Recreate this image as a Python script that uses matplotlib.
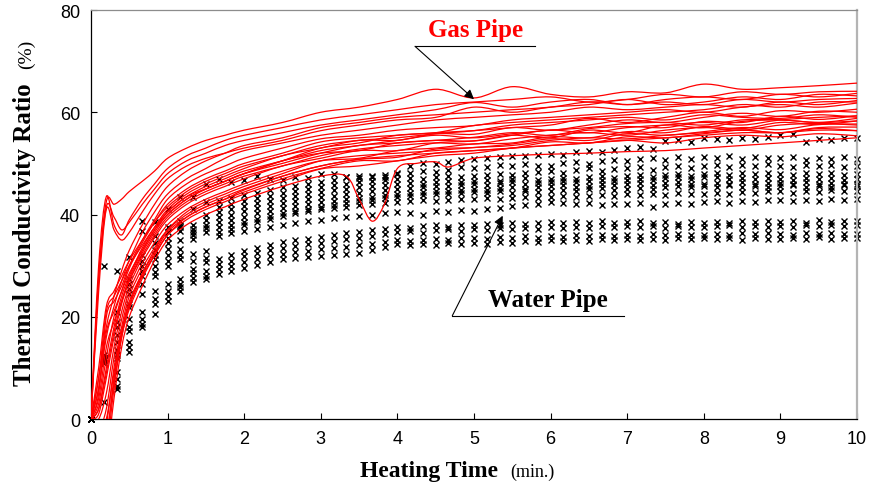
import numpy as np
import matplotlib
matplotlib.use("Agg")
import matplotlib.pyplot as plt
from matplotlib.path import Path
from matplotlib.patches import PathPatch
from matplotlib.lines import Line2D

# ---------------- data ----------------
x_ticks = [0, 1, 2, 3, 4, 5, 6, 7, 8, 9, 10]
y_ticks = [0, 20, 40, 60, 80]

# gas pipe curves (Heating time in min)
gas_time = [0, 0.1, 0.2, 0.3, 0.4, 0.5, 0.67, 0.83, 1.0, 1.25, 1.5, 1.75, 2.0, 2.5,
            3.0, 3.5, 4.0, 4.5, 5.0, 5.5, 6.0, 6.5, 7.0, 7.5, 8.0, 8.5, 9.0, 9.5, 10.0]
gas_01 = [0, 28, 42.5, 42, 43, 44.5, 46.5, 48.5, 51, 53, 54.5, 55.5, 56.5, 58, 60, 61, 62.5, 64.5, 62.8, 65, 63.5, 63, 64, 63.8, 65.5, 64.5, 64.8, 65.2, 65.7]
gas_02 = [0, 30, 43.5, 38, 36, 39, 43, 46, 49, 51.5, 53, 54.5, 55.5, 57, 58.5, 59.5, 60.5, 61.5, 62, 62.5, 63, 62, 62.5, 63.5, 63, 64, 63.5, 64, 64.1]
gas_03 = [0, 27, 41.5, 39.5, 37, 38.5, 42, 45, 48, 50.5, 52, 53.5, 54.5, 56, 57.5, 58.5, 59.5, 60.5, 61.9, 61, 62, 62.5, 61.5, 62.5, 63, 62.5, 63.5, 63, 63.7]
gas_04 = [0, 25, 41, 37, 35, 36.5, 40.5, 44, 47, 49.5, 51, 52, 53, 54.5, 56.4, 57.5, 58.5, 59, 61, 60, 61, 61.5, 62.5, 61.5, 62, 63, 62.5, 63.5, 63.2]
gas_05 = [0, 8, 18, 24, 29, 33, 38, 42, 45.5, 48.5, 50.5, 52, 53.5, 55, 57, 58, 59, 59.5, 60, 60.5, 61, 62, 61.5, 62, 61.5, 62.5, 62, 62.5, 62.7]
gas_06 = [0, 6, 16, 22, 27, 31, 36.5, 40.5, 44, 47, 49, 51, 52.5, 54, 55.5, 56.5, 57.5, 58.5, 59, 59.5, 60, 61, 60.5, 61, 61.5, 61, 62, 61.5, 62.3]
gas_07 = [0, 5, 20, 23, 26, 30, 35, 39, 43, 46, 48, 49.5, 51, 53, 54.8, 55.5, 56.5, 57, 57.4, 58.5, 59, 59.5, 60, 60.5, 60, 61, 61.5, 61, 61.8]
gas_08 = [0, 3, 12, 20, 25, 29.5, 34.5, 38.5, 42, 45, 47, 48.5, 50, 52, 54.2, 55, 55.5, 56, 56.4, 57, 57.5, 58.8, 58, 59, 60, 59.2, 60.3, 60, 60.6]
gas_09 = [0, 2, 10, 18, 24, 28, 33.5, 37.5, 41, 44, 46, 47.5, 49, 51.5, 53, 54.5, 54.5, 55.8, 55.7, 57, 56.5, 57.5, 58.5, 58, 59, 59.8, 59.2, 60.2, 60]
gas_10 = [0, 1, 8, 16, 22.5, 27, 32.5, 36.5, 40, 43, 45, 46.5, 48, 50.5, 52, 52.5, 54, 54.5, 55.1, 56, 55.5, 56.8, 57.2, 57, 58.2, 58, 59.2, 58.6, 59.3]
gas_11 = [0, 0, 5, 14, 21, 26, 31.5, 35.5, 39, 42, 44, 45.5, 47, 49.5, 51, 52.5, 52.5, 54, 54.4, 55.5, 55, 56.5, 56, 57.5, 57, 58.2, 58.5, 58, 58.8]
gas_12 = [0, -2, 2, 12, 19.5, 25, 30.5, 34.5, 38, 41, 43, 44.5, 46, 48.5, 50.5, 51, 52.5, 53, 53.8, 54, 55.2, 55, 56.2, 56, 57.2, 56.8, 58, 57.6, 58.3]
gas_13 = [0, -4, -1, 10, 18, 24, 29.5, 33.5, 37, 40, 42, 43.5, 45, 47.5, 49.5, 50.8, 51.2, 52.8, 53.1, 53.8, 54.8, 54.5, 55.8, 55.5, 56.2, 57, 56.6, 57.6, 57.7]
gas_14 = [0, -6, -4, 8, 17, 23, 28.5, 32.5, 36.6, 39.5, 41.5, 43, 44.4, 47, 49, 50.5, 50.5, 52, 52.5, 53, 54.2, 54, 55.2, 55, 55.8, 56.5, 56, 57, 57.1]
gas_15 = [0, -8, -6, 6, 16, 22, 28, 32, 36, 39, 41, 42.5, 44, 46.5, 48.9, 49.5, 50.5, 51.5, 52, 53, 53.5, 54, 54.5, 55, 55.5, 56, 56, 56.5, 56.4]
gas_16 = [0, 10, 22, 25, 28, 31, 35, 38.5, 41.5, 44.5, 46.5, 48, 49.5, 51.5, 53.5, 54.5, 55, 55.8, 56.4, 57.5, 58, 58.5, 59, 58.5, 59.5, 59, 58.8, 59.5, 59]
gas_17 = [0, 8, 21, 24, 27, 30, 34, 37.5, 40.5, 43.5, 45.5, 47, 48.5, 50.5, 52.5, 53.5, 54.5, 55.5, 55, 55.8, 56.5, 57, 57.8, 58, 57.5, 58.5, 58.5, 58, 58.3]
gas_18 = [0, 4, 14, 19, 23, 27, 32, 36, 39.5, 42.5, 44.5, 46, 47.5, 49.5, 51.5, 52.8, 53.5, 54, 53.8, 54.8, 55.5, 56, 55.5, 56.5, 57, 56.5, 57.5, 57.8, 57.5]
gas_19 = [0, -3, 0, 9, 17, 22.5, 28.5, 33, 37, 40.5, 42.5, 44, 45.5, 48, 50.5, 51.5, 52, 52.5, 53.1, 53.5, 54.5, 55, 54.8, 55.5, 56, 56.5, 56, 56.8, 56.4]
gas_20 = [0, -5, -3, 7, 16, 21.5, 27.5, 32, 36, 39.5, 41.5, 43, 44.8, 47.5, 49.5, 50.8, 51.5, 52, 52.5, 53, 53.5, 54, 54.5, 54, 55, 55.5, 55.2, 55.8, 55.4]
gas_21 = [0, 6, 17, 21, 25, 28.5, 33, 37, 40.5, 43.5, 45, 46.5, 48, 50, 52, 53.5, 54, 54.5, 54.4, 55.5, 56.5, 56, 57, 57.5, 58, 57.5, 58.5, 59, 59.3]
gas_22 = [0, 2, 9, 17, 23, 27.5, 33, 37, 40, 43, 45, 46.5, 48, 50.5, 53, 54, 55.5, 56, 57.4, 58, 58.5, 59, 59.5, 60, 60.5, 61.5, 61, 62, 62]

# gas curve with the local drop near 3.7 min
gas_dip_time = [0, 0.1, 0.2, 0.3, 0.4, 0.5, 0.67, 0.83, 1.0, 1.25, 1.5, 1.75, 2.0, 2.5, 3.0, 3.33, 3.5,
                3.67, 3.83, 4.0, 4.25, 4.5, 4.67, 5.0, 5.5, 6.0, 6.5, 7.0, 7.5, 8.0, 8.5, 9.0, 9.5, 10.0]
gas_dip = [0, -10, -8, 4, 14, 20, 26, 31, 35, 38, 40, 41.5, 43, 45.5, 47.5, 47.5, 43,
           38.7, 42, 49, 50, 50.3, 49.3, 51, 51.5, 51.8, 52, 52.3, 52.5, 53, 53.5, 54, 54.5, 55]

# water pipe measurements, one every 10 s (k/6 min, k = 0..60)
water_time = np.arange(61) / 6.0
water_01 = [0, 30, 29, 31.7, 38.8, 38.5, 41, 43.4, 43.4, 46, 47, 46.4, 46.8, 47.5, 47, 46.8, 47.4, 47.2, 48, 48, 47.4, 47.6, 47.4, 47.3, 48.2, 49.5, 50, 49.8, 50.2, 50.6, 50.8, 51, 51.2, 51.4, 51.4, 51.6, 51.8, 51.6, 52.2, 52.4, 52.2, 52.6, 53, 53.2, 52.8, 54.4, 54.6, 54.2, 55, 54.8, 54.6, 55, 54.8, 55.2, 55.6, 55.8, 54.2, 54.8, 54.6, 55, 55]
water_02 = [0, 12.5, 21, 27.4, 36.8, 35.8, 37.5, 38.7, 41, 42.4, 42.6, 43.2, 43.8, 44.2, 44.8, 45.3, 45.6, 46, 46.4, 46.8, 47.3, 47.1, 47.5, 47.8, 48, 48.2, 48.6, 48.4, 48.8, 49.2, 49, 49.3, 49.6, 49.4, 49.8, 49.5, 49.5, 50, 50.3, 49.8, 50.4, 50.6, 50.5, 50.8, 51, 50.6, 51.2, 50.9, 51.2, 51, 51.4, 50.8, 51.2, 51, 51, 51.3, 50.6, 51, 50.8, 51.2, 50.8]
water_03 = [0, 12, 19, 26.5, 32, 34.5, 36.5, 38, 38, 40, 41.5, 42, 42.6, 43.2, 43.7, 44.2, 44.6, 45, 45.4, 45.8, 46, 46.3, 46.5, 46.8, 47, 47.2, 46.9, 47.3, 47.6, 47.4, 47.5, 47.8, 48, 47.7, 48.2, 48.4, 48.5, 48.2, 48.7, 49, 48.6, 48.9, 49, 49.2, 48.8, 49.3, 49.5, 49.1, 49.5, 49.7, 49.2, 49.6, 49.4, 49.8, 49.5, 49.3, 49.7, 49.4, 49.6, 49.3, 49.5]
water_04 = [0, 12, 18, 25.5, 31, 33, 35.5, 37.5, 37.2, 39, 40.5, 41, 41.6, 42.2, 42.7, 43.2, 43.6, 44, 44.4, 44.7, 45, 45.3, 45.5, 45.8, 46, 46.2, 46, 46.4, 46.6, 46.3, 46.6, 46.8, 46.5, 46.9, 47.1, 46.8, 47, 47.2, 46.9, 47.3, 47.5, 47.2, 47.5, 47.7, 47.4, 47.8, 48, 47.6, 48, 48.2, 47.8, 48.1, 47.9, 48.2, 48, 47.8, 48.2, 47.9, 48.1, 47.8, 48]
water_05 = [0, 11.5, 16.5, 24.4, 30, 32, 34.5, 36.8, 36.6, 38, 39.5, 40, 40.6, 41.2, 41.7, 42.2, 42.6, 43, 43.4, 43.7, 44, 44.2, 44.5, 44.8, 45, 45.2, 45.4, 45.6, 45.5, 45.8, 46, 45.8, 46.1, 46.3, 46, 46.2, 46.4, 46.6, 46.3, 46.5, 46.8, 46.6, 46.8, 47, 46.7, 47.1, 47.3, 47, 47.3, 47.4, 47, 47.2, 46.9, 47.2, 47, 46.8, 47.2, 46.9, 47.1, 46.8, 47]
water_06 = [0, 11.5, 15, 22.5, 29, 31.3, 33.2, 35, 36, 37.3, 38.5, 39, 39.6, 40.2, 40.7, 41.2, 41.6, 42, 42.4, 42.7, 43, 43.2, 43.5, 43.8, 44, 44.2, 44.4, 44.6, 44.5, 44.8, 45, 44.8, 45.1, 45.3, 45, 45.3, 45.5, 45.7, 45.4, 45.6, 45.9, 45.7, 46, 46.2, 45.8, 46.1, 46.3, 45.9, 46, 46.2, 45.9, 46.3, 46, 46.2, 46.2, 45.9, 46.3, 46, 46.2, 45.9, 46]
water_07 = [0, 11, 13.5, 22, 28, 30, 32, 33.2, 35.2, 36.6, 37.5, 38, 38.6, 39.2, 39.7, 40.2, 40.7, 41.1, 41.5, 41.9, 42.3, 42.6, 42.9, 43.2, 43.5, 43.7, 43.9, 44.1, 44, 44.3, 44.4, 44.2, 44.5, 44.3, 44.6, 44.4, 44.6, 44.8, 44.5, 44.9, 45.1, 44.8, 45, 45.2, 45, 45.4, 45.6, 45.3, 45.6, 45.4, 45.7, 45.3, 45.6, 45.4, 45.5, 45.7, 45.4, 45.6, 45.3, 45.7, 45.6]
water_08 = [0, 11, 12.5, 19.6, 26.5, 28.7, 31, 32, 32.3, 32.9, 36.5, 37.2, 37.9, 38.5, 39.1, 39.7, 40.2, 40.6, 41, 41.3, 41.5, 41.8, 42, 42.3, 42.5, 42.6, 42.8, 42.7, 42.9, 43.1, 43, 43.2, 43, 43.3, 43.5, 43.2, 43.4, 43.6, 43.4, 43.7, 43.9, 43.6, 44, 43.8, 44.1, 43.9, 44.2, 44, 44, 44.3, 44.1, 44.4, 44.2, 44.5, 44.5, 44.3, 44.6, 44.4, 44.7, 44.5, 44.6]
water_09 = [0, 11.5, 12, 18, 24.5, 28, 30, 31.3, 31, 31.5, 35.8, 36.3, 36.8, 37.2, 37.6, 38, 38.4, 38.7, 39, 39.3, 39.5, 39.8, 40, 40.2, 40.5, 40.3, 40, 40.6, 40.4, 40.8, 40.7, 41, 41.3, 41.6, 41.9, 42.1, 42.4, 42.2, 42, 42.3, 41.8, 42.1, 42, 42.2, 41.5, 42, 42.3, 42.1, 42.4, 42.6, 42.3, 42.7, 42.5, 42.8, 42.8, 42.6, 42.9, 42.7, 43.1, 42.8, 43]
water_10 = [0, 12, 9.2, 17.2, 21, 25, 26.4, 27.4, 29.3, 30.7, 31.3, 32, 32.8, 33.4, 34, 34.6, 35, 35.3, 35.6, 35.9, 36.3, 36.6, 36.9, 37.2, 37.5, 37.3, 37.7, 37.9, 37.6, 38, 38, 38.2, 37.9, 38.3, 38.1, 38.4, 38.5, 38.3, 38.6, 38.4, 38.7, 38.3, 38.5, 38.7, 38.4, 38.6, 38.2, 38.5, 38.3, 38.6, 38.4, 38.7, 38.5, 38.8, 38.5, 38.7, 38.4, 38.9, 38.6, 38.8, 38.8]
water_11 = [0, 11.5, 7.8, 15, 19.5, 23.5, 25, 26.5, 28.5, 29, 30.3, 31, 31.8, 32.4, 33, 33.5, 33.8, 34.2, 34.5, 34.8, 35.2, 35.5, 35.8, 36.2, 36.5, 36.7, 36.4, 36.9, 37.1, 36.8, 37.2, 37, 37.3, 37.1, 37.4, 37.2, 37.5, 37.3, 37.6, 37.4, 37.7, 37.5, 37.8, 37.5, 37.7, 37.4, 37.8, 37.6, 37.5, 37.7, 37.9, 37.6, 37.8, 37.5, 37.8, 37.6, 37.9, 37.7, 38, 37.8, 38]
water_12 = [0, 11, 6.5, 14, 18.5, 22.5, 24, 25.8, 27.5, 28, 29.4, 30, 30.7, 31.3, 31.8, 32.3, 32.6, 32.9, 33.2, 33.5, 33.7, 34, 34.3, 34.7, 35, 34.8, 35.1, 35.3, 35, 35.4, 35.5, 35.3, 35.6, 35.4, 35.7, 35.5, 35.8, 35.6, 35.9, 35.7, 36, 35.8, 36, 35.8, 36.1, 35.9, 36.2, 35.9, 36, 36.2, 35.9, 36.3, 36.1, 36.3, 36.2, 36, 36.3, 36.1, 36.4, 36.2, 36.2]
water_13 = [0, 3.3, 5.9, 13.1, 18, 20.5, 23.1, 25, 26.8, 27.4, 28.4, 29, 29.6, 30.2, 30.7, 31.3, 31.5, 31.7, 31.9, 32.1, 32.3, 32.5, 33, 33.6, 34.2, 34, 34.3, 34.1, 34.4, 34.2, 34.5, 34.3, 34.6, 34.4, 34.8, 34.6, 35, 34.8, 35.1, 34.9, 35.2, 35, 35.2, 35, 35.3, 35.1, 35.4, 35.2, 35.5, 35.2, 35.4, 35.1, 35.5, 35.3, 35.3, 35.5, 35.2, 35.6, 35.3, 35.5, 35.5]

gas_curves = [gas_01, gas_02, gas_03, gas_04, gas_05, gas_06, gas_07, gas_08, gas_09, gas_10, gas_11,
              gas_12, gas_13, gas_14, gas_15, gas_16, gas_17, gas_18, gas_19, gas_20, gas_21, gas_22]
water_series = [water_01, water_02, water_03, water_04, water_05, water_06, water_07,
                water_08, water_09, water_10, water_11, water_12, water_13]

# ---------------- drawing ----------------
SERIF = ["Liberation Serif", "DejaVu Serif"]
SANS = ["Liberation Sans", "DejaVu Sans"]


def smooth_path(xs, ys):
    """Smoothed line through the points (cubic Bezier, like a spreadsheet smoothed line)."""
    pts = np.column_stack([np.asarray(xs, float), np.asarray(ys, float)])
    n = len(pts)
    verts = [pts[0]]
    codes = [Path.MOVETO]
    for i in range(n - 1):
        p0 = pts[max(i - 1, 0)]
        p1 = pts[i]
        p2 = pts[i + 1]
        p3 = pts[min(i + 2, n - 1)]
        c1 = p1 + (p2 - p0) / 6.0
        c2 = p2 - (p3 - p1) / 6.0
        verts += [c1, c2, p2]
        codes += [Path.CURVE4] * 3
    return Path(verts, codes)


fig = plt.figure(figsize=(8.73, 4.89), dpi=100)
ax = fig.add_axes([0.10424, 0.14110, 0.87743, 0.83640])

for w in water_series:
    ax.plot(water_time[:len(w)], w, linestyle="none", marker="x", color="black",
            markersize=5.0, markeredgewidth=1.0, clip_on=False, zorder=2)

for g in gas_curves:
    ax.add_patch(PathPatch(smooth_path(gas_time[:len(g)], g), fill=False,
                           edgecolor="#ff0000", linewidth=0.9, zorder=3))
ax.add_patch(PathPatch(smooth_path(gas_dip_time, gas_dip), fill=False,
                       edgecolor="#ff0000", linewidth=0.9, zorder=3))

ax.set_xlim(0, 10)
ax.set_ylim(0, 80)
ax.set_xticks(x_ticks)
ax.set_yticks(y_ticks)
ax.set_xticklabels([str(v) for v in x_ticks], family=SANS, fontsize=13)
ax.set_yticklabels([str(v) for v in y_ticks], family=SANS, fontsize=13)
ax.tick_params(axis="both", direction="in", length=4, width=0.8, color="black")
ax.tick_params(axis="x", pad=8)
ax.tick_params(axis="y", pad=8)

ax.spines["left"].set_color("black")
ax.spines["bottom"].set_color("black")
ax.spines["left"].set_linewidth(0.9)
ax.spines["bottom"].set_linewidth(0.9)
ax.spines["top"].set_color("#8c8c8c")
ax.spines["top"].set_linewidth(0.9)
ax.spines["right"].set_color("#b4b4b4")
ax.spines["right"].set_linewidth(1.6)

# axis titles
fig.text(31 / 873, 1 - 235 / 489, "Thermal Conductivity Ratio", rotation=90,
         rotation_mode="anchor", ha="center", va="baseline",
         family=SERIF, fontweight="bold", fontsize=18)
fig.text(31 / 873, 1 - 54 / 489, "(%)", rotation=90, rotation_mode="anchor",
         ha="center", va="baseline", family=SERIF, fontsize=14)
fig.text(429.5 / 873, 1 - 477 / 489, "Heating Time", ha="center", va="baseline",
         family=SERIF, fontweight="bold", fontsize=17)
fig.text(532.5 / 873, 1 - 477 / 489, "(min.)", ha="center", va="baseline",
         family=SERIF, fontsize=13)

# annotations
arrow = dict(arrowstyle="-|>", color="black", lw=0.8, shrinkA=0, shrinkB=0,
             mutation_scale=14)
ax.text(0.502, 0.937, "Gas Pipe", transform=ax.transAxes, ha="center", va="baseline",
        color="#ff0000", family=SERIF, fontweight="bold", fontsize=18)
ax.add_line(Line2D([0.423, 0.580], [0.9112, 0.9112], transform=ax.transAxes,
                   color="black", lw=0.8, clip_on=False))
ax.annotate("", xy=(0.500, 0.782), xytext=(0.423, 0.9112), xycoords="axes fraction",
            textcoords="axes fraction", arrowprops=arrow)

ax.text(0.596, 0.277, "Water Pipe", transform=ax.transAxes, ha="center", va="baseline",
        color="black", family=SERIF, fontweight="bold", fontsize=18)
ax.add_line(Line2D([0.4717, 0.6958], [0.2526, 0.2526], transform=ax.transAxes,
                   color="black", lw=0.8, clip_on=False))
ax.annotate("", xy=(0.5375, 0.497), xytext=(0.4717, 0.2526), xycoords="axes fraction",
            textcoords="axes fraction", arrowprops=arrow)

fig.savefig("out.png", dpi=100)
